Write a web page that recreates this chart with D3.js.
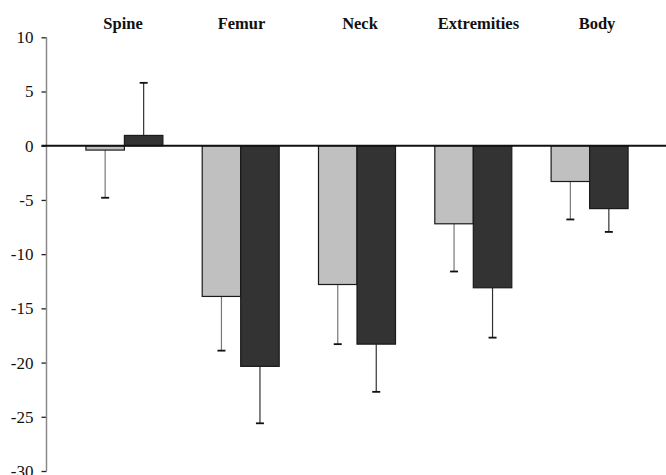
<!DOCTYPE html>
<html>
<head>
<meta charset="utf-8">
<script src="https://cdn.jsdelivr.net/npm/d3@7/dist/d3.min.js"></script>
<style>
  html, body { margin: 0; padding: 0; background: #fff; }
  svg { display: block; }
</style>
</head>
<body>
<svg id="chart" width="666" height="475"></svg>
<script>
// ---- data ----
const categories = ["Spine", "Femur", "Neck", "Extremities", "Body"];
const seriesNames = ["Group 1", "Group 2"];
const series1Values = [-0.4, -13.9, -12.8, -7.2, -3.3];
const series2Values = [0.95, -20.35, -18.3, -13.1, -5.8];
const series1Errors = [4.4, 5.0, 5.5, 4.4, 3.5];
const series2Errors = [4.85, 5.25, 4.4, 4.6, 2.15];
const yTicks = [10, 5, 0, -5, -10, -15, -20, -25, -30];

const seriesValues = [series1Values, series2Values];
const seriesErrors = [series1Errors, series2Errors];
const colors = ["#c0c0c0", "#333333"];

const svg = d3.select("#chart");

const axisX = 46.5;
const y = d3.scaleLinear().domain([-30, 10]).range([471, 37.3]);
const x = d3.scaleBand().domain(categories).range([66.25, 647.75])
  .paddingInner(0.338).paddingOuter(0.169);
const xs = d3.scaleBand().domain(seriesNames).range([0, x.bandwidth()]);
const labelX = d3.scalePoint().domain(categories).range([123, 597]);

// y axis
const yAxis = d3.axisLeft(y).tickValues(yTicks).tickSize(5).tickPadding(8)
  .tickFormat(d3.format("d"));
const gy = svg.append("g").attr("transform", `translate(${axisX},0)`).call(yAxis);
gy.select(".domain").remove();
gy.append("line").attr("x1", 0).attr("x2", 0)
  .attr("y1", y(10)).attr("y2", y(-30))
  .attr("stroke", "#8a8a8a").attr("stroke-width", 1.5);
gy.selectAll(".tick line").attr("stroke", "#222").attr("stroke-width", 1.3);
gy.selectAll(".tick text")
  .attr("font-family", "'Liberation Serif', 'Times New Roman', serif")
  .attr("font-size", 17).attr("fill", "#111")
  .text(d => d < 0 ? "-" + Math.abs(d) : d);

// data rows
const rows = [];
categories.forEach((c, i) => {
  seriesNames.forEach((s, j) => {
    rows.push({ cat: c, s, j, v: seriesValues[j][i], e: seriesErrors[j][i] });
  });
});

// error bars (drawn behind bars)
const eb = svg.append("g");
rows.forEach(r => {
  const cx = x(r.cat) + xs(r.s) + xs.bandwidth() / 2;
  const end = r.v >= 0 ? r.v + r.e : r.v - r.e;
  eb.append("line").attr("x1", cx).attr("x2", cx)
    .attr("y1", y(r.v)).attr("y2", y(end))
    .attr("stroke", r.j === 0 ? "#777" : "#333").attr("stroke-width", 1.2);
  eb.append("line").attr("x1", cx - 4).attr("x2", cx + 4)
    .attr("y1", y(end)).attr("y2", y(end))
    .attr("stroke", "#111").attr("stroke-width", 1.8);
});

// bars
svg.append("g").selectAll("rect").data(rows).join("rect")
  .attr("x", d => x(d.cat) + xs(d.s))
  .attr("width", xs.bandwidth())
  .attr("y", d => y(Math.max(0, d.v)))
  .attr("height", d => Math.abs(y(d.v) - y(0)))
  .attr("fill", d => colors[d.j])
  .attr("stroke", "#1a1a1a").attr("stroke-width", 1.2);

// zero line
svg.append("line").attr("x1", axisX - 5).attr("x2", 666)
  .attr("y1", y(0)).attr("y2", y(0))
  .attr("stroke", "#111").attr("stroke-width", 2);

// category labels
svg.append("g").selectAll("text").data(categories).join("text")
  .attr("x", d => labelX(d)).attr("y", 29)
  .attr("text-anchor", "middle")
  .attr("font-family", "'Liberation Serif', 'Times New Roman', serif")
  .attr("font-weight", "bold").attr("font-size", 16.5).attr("fill", "#111")
  .text(d => d);
</script>
</body>
</html>
